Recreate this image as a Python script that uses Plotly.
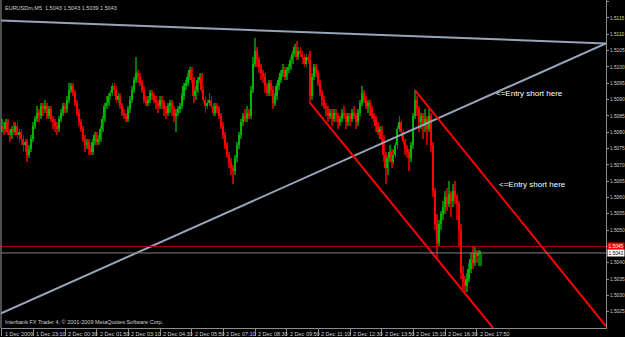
import plotly.graph_objects as go

# ---- price data: EURUSDm M5, values in pips above 1.5000 ----
BASE = 1.5
PIP = 0.0001

opens = [81,82,81,83,80,79,81,80,82,79, 80,78,76,77,73,75,78,82,84,86,
         85,88,87,88,85,87,84,83,82,81, 84,86,88,87,90,93,94,92,89,86,
         83,81,78,76,77,75,74,77,79,77, 78,81,84,88,89,91,92,94,93,90,
         91,88,86,85,84,87,90,93,96,98, 97,95,93,90,89,90,92,91,90,89,
         88,90,89,87,86,88,89,87,85,86, 87,88,91,94,95,97,99,96,91,93,
         96,97,93,90,88,89,90,88,86,88, 87,85,82,79,76,73,71,69,68,72,
         76,79,83,85,84,86,85,93,101,105, 102,100,98,97,94,92,95,93,89,91,
         94,96,98,99,97,99,100,102,104,106, 103,105,104,103,101,103,102,91,97,100,
         98,95,92,90,88,87,85,86,84,86, 85,83,84,86,85,83,85,84,86,85,
         83,86,89,92,90,88,89,87,85,84, 82,80,81,78,73,69,72,74,71,73,
         76,81,83,80,77,75,74,72,76,85, 90,87,83,85,82,84,81,85,76,62,
         52,46,52,55,57,60,58,61,59,62, 60,58,50,37,34,33,35,38,41,40,
         43,42,43]
highs = [84,83,84,84,81,82,83,83,83,81, 81,79,78,78,76,79,83,85,88,87,
         89,89,90,89,88,88,85,84,83,85, 87,89,89,91,95,95,95,93,90,87,
         84,82,79,78,78,76,78,80,80,79, 82,85,89,91,92,93,95,95,94,92,
         92,89,87,86,88,91,94,97,103,99, 98,96,94,91,91,93,93,92,91,90,
         91,91,90,88,89,90,90,88,87,88, 89,92,95,96,98,100,100,97,94,97,
         98,98,94,91,90,92,91,89,89,89, 88,86,83,80,77,74,72,70,73,77,
         80,84,86,87,88,87,94,103,109,106, 103,101,99,98,95,96,96,94,92,95,
         97,99,101,100,100,101,103,105,107,108, 106,106,105,104,104,104,105,98,101,101,
         99,96,93,91,89,88,87,87,87,87, 86,85,87,88,86,86,86,87,88,86,
         87,90,94,93,91,90,90,88,86,85, 83,82,82,79,74,73,76,75,75,77,
         82,85,84,81,78,76,75,77,86,93, 91,88,86,86,87,85,87,86,77,63,
         55,53,56,59,62,63,65,62,64,65, 61,59,52,39,36,37,40,43,45,45,
         44,44,43]
lows = [80,79,80,79,77,78,79,79,78,77, 76,74,74,71,72,74,77,81,83,83,
        84,85,86,84,84,83,81,80,79,80, 83,85,86,86,89,92,91,88,85,82,
        80,77,74,75,73,73,73,76,76,76, 77,80,83,87,88,90,91,91,89,89,
        87,85,84,83,83,86,89,92,95,95, 94,92,89,88,88,89,90,89,87,86,
        87,87,85,84,85,86,85,83,80,85, 86,87,90,93,94,96,95,89,90,92,
        95,92,89,86,87,88,87,85,85,86, 84,81,78,75,72,69,67,64,67,71,
        75,78,82,83,83,84,84,92,100,100, 98,96,95,92,91,91,91,87,88,90,
        93,95,97,96,96,98,99,101,103,102, 102,103,101,100,100,101,89,90,96,97,
        94,91,88,87,85,83,84,82,83,83, 81,82,83,84,81,82,82,83,84,81,
        82,85,88,89,87,86,85,84,83,80, 79,78,76,71,64,67,71,69,70,72,
        75,80,78,76,73,72,68,71,75,84, 85,80,81,78,80,76,80,74,60,50,
        41,45,50,53,55,56,57,54,57,58, 53,45,35,32,31,31,34,37,38,39,
        40,39,39]
closes = [82,81,83,80,79,81,80,82,79,80, 78,76,77,73,75,78,82,84,86,85,
          88,87,88,85,87,84,83,82,81,84, 86,88,87,90,93,94,92,89,86,83,
          81,78,76,77,75,74,77,79,77,78, 81,84,88,89,91,92,94,93,90,91,
          88,86,85,84,87,90,93,96,98,97, 95,93,90,89,90,92,91,90,89,88,
          90,89,87,86,88,89,87,85,86,87, 88,91,94,95,97,99,96,91,93,96,
          97,93,90,88,89,90,88,86,88,87, 85,82,79,76,73,71,69,68,72,76,
          79,83,85,84,86,85,93,101,105,102, 100,98,97,94,92,95,93,89,91,94,
          96,98,99,97,99,100,102,104,106,103, 105,104,103,101,103,102,91,97,100,98,
          95,92,90,88,87,85,86,84,86,85, 83,84,86,85,83,85,84,86,85,83,
          86,89,92,90,88,89,87,85,84,82, 80,81,78,73,69,72,74,71,73,76,
          81,83,80,77,75,74,72,76,85,90, 87,83,85,82,84,81,85,76,62,52,
          46,52,55,57,60,58,61,59,62,60, 58,50,37,34,33,35,38,41,40,43,
          42,43,43]

x_tick_index = [0, 16, 32, 48, 64, 80, 96, 112, 128, 144, 160, 176, 192, 208, 224, 240]
x_tick_labels = ["1 Dec 2009", "1 Dec 23:10", "2 Dec 00:30", "2 Dec 01:50", "2 Dec 03:10",
                 "2 Dec 04:30", "2 Dec 05:50", "2 Dec 07:10", "2 Dec 08:30", "2 Dec 09:50",
                 "2 Dec 11:10", "2 Dec 12:30", "2 Dec 13:50", "2 Dec 15:10", "2 Dec 16:30",
                 "2 Dec 17:50"]
y_tick_values = [1.5025, 1.5030, 1.5035, 1.5040, 1.5045, 1.5050, 1.5055,
                 1.5060, 1.5065, 1.5070, 1.5075, 1.5080, 1.5085, 1.5090,
                 1.5095, 1.5100, 1.5105, 1.5110, 1.5115, 1.5120]
# the 1.5045 label is hidden behind the red price box in the reference
y_tick_labels = ["1.5025", "1.5030", "1.5035", "1.5040", "", "1.5050", "1.5055",
                 "1.5060", "1.5065", "1.5070", "1.5075", "1.5080", "1.5085", "1.5090",
                 "1.5095", "1.5100", "1.5105", "1.5110", "1.5115", "1.5120"]

header_text = "EURUSDm,M5  1.5043 1.5043 1.5039 1.5043"
footer_text = "Interbank FX Trader 4, \u00a9 2001-2009 MetaQuotes Software Corp."

ask_price = 1.5045
bid_price = 1.5043

# trend lines in (bar index, price)
top_trend_x = [-1, 305.3]
top_trend_y = [1.51142, 1.51072]
rise_trend_x = [-1, 305.3]
rise_trend_y = [1.50243, 1.51072]
chan_low_x = [155.8, 248.3]
chan_low_y = [1.50890, 1.50200]
chan_high_x = [208.8, 305.35]
chan_high_y = [1.50929, 1.50206]

note_texts = ["<=Entry short here", "<=Entry short here"]
note_x = [248.8, 250.3]
note_y = [1.50917, 1.50641]

# ---- build ----
idx = list(range(len(closes)))
P = lambda v: BASE + v * PIP
up = [c >= o for o, c in zip(opens, closes)]
body_col = ["#00b400" if u else "#ff0000" for u in up]
wick_col = ["#007a00" if u else "#b80000" for u in up]
wick_base = [P(l) for l in lows]
wick_len = [(h - l) * PIP for h, l in zip(highs, lows)]
body_base = [P(min(o, c)) for o, c in zip(opens, closes)]
body_len = [max(abs(c - o), 0.4) * PIP for o, c in zip(opens, closes)]

fig = go.Figure()
fig.add_trace(go.Bar(x=idx, y=wick_len, base=wick_base, width=0.45,
                     marker=dict(color=wick_col, line=dict(width=0)), hoverinfo="skip"))
fig.add_trace(go.Bar(x=idx, y=body_len, base=body_base, width=0.8,
                     marker=dict(color=body_col, line=dict(width=0)), hoverinfo="skip"))

for xs, ys, col, w in [(top_trend_x, top_trend_y, "#96a6b8", 2),
                       (rise_trend_x, rise_trend_y, "#96a6b8", 2),
                       (chan_low_x, chan_low_y, "#ff0000", 2),
                       (chan_high_x, chan_high_y, "#ff0000", 2)]:
    fig.add_trace(go.Scatter(x=xs, y=ys, mode="lines", line=dict(color=col, width=w),
                             hoverinfo="skip"))

shapes = [
    dict(type="line", xref="paper", yref="y", x0=0, x1=1, y0=ask_price, y1=ask_price,
         line=dict(color="#b00000", width=1)),
    dict(type="line", xref="paper", yref="y", x0=0, x1=1, y0=bid_price, y1=bid_price,
         line=dict(color="#808080", width=1)),
    dict(type="line", xref="paper", yref="paper", x0=0, x1=0, y0=0, y1=1,
         line=dict(color="#9a9a9a", width=1)),
]

small = dict(family="Liberation Sans, Arial", size=5.5, color="#d0d0d0")
axis_font = dict(family="Liberation Sans, Arial", size=4.8, color="#d0d0d0")
annotations = []
for t, xv in zip(x_tick_labels, x_tick_index):
    annotations.append(dict(x=xv, y=0, xref="x", yref="paper", text=t, showarrow=False,
                            xanchor="left", yanchor="top", xshift=1, yshift=-1, font=small))
for t, xv, yv in zip(note_texts, note_x, note_y):
    annotations.append(dict(x=xv, y=yv, xref="x", yref="y", text=t, showarrow=False,
                            xanchor="left", yanchor="middle",
                            font=dict(family="Liberation Sans, Arial", size=8, color="#ffffff")))
annotations.append(dict(x=0, y=1, xref="paper", yref="paper", text=header_text, showarrow=False,
                        xanchor="left", yanchor="top", xshift=2, yshift=-3, font=small))
annotations.append(dict(x=0, y=0, xref="paper", yref="paper", text=footer_text, showarrow=False,
                        xanchor="left", yanchor="bottom", xshift=2, yshift=1, font=small))
annotations.append(dict(x=1, y=ask_price, xref="paper", yref="y", text=f"{ask_price:.4f}",
                        showarrow=False, xanchor="left", yanchor="middle", xshift=1,
                        bgcolor="#ff0000", borderpad=0.5,
                        font=dict(family="Liberation Sans, Arial", size=4.8, color="#ffffff")))
annotations.append(dict(x=1, y=bid_price, xref="paper", yref="y", text=f"{bid_price:.4f}",
                        showarrow=False, xanchor="left", yanchor="middle", xshift=1,
                        bgcolor="#ffffff", borderpad=0.5,
                        font=dict(family="Liberation Sans, Arial", size=4.8, color="#000000")))

fig.update_layout(
    template="none", width=625, height=337,
    margin=dict(l=1, r=19, t=0, b=9, pad=0),
    paper_bgcolor="#000000", plot_bgcolor="#000000",
    showlegend=False, barmode="overlay", bargap=0,
    shapes=shapes, annotations=annotations,
    xaxis=dict(range=[-0.35, 305.35], showgrid=False, zeroline=False, showline=True,
               linecolor="#8c8c8c", linewidth=1, ticks="outside", ticklen=7,
               tickcolor="#8c8c8c", tickvals=x_tick_index, showticklabels=False,
               automargin=False, fixedrange=True),
    yaxis=dict(range=[1.50200, 1.51205], side="right", showgrid=False, zeroline=False,
               showline=True, linecolor="#8c8c8c", linewidth=1, ticks="outside",
               ticklen=2, tickcolor="#8c8c8c",
               tickvals=y_tick_values, ticktext=y_tick_labels,
               tickfont=axis_font, automargin=False, fixedrange=True),
)

fig.write_html("out.html")
